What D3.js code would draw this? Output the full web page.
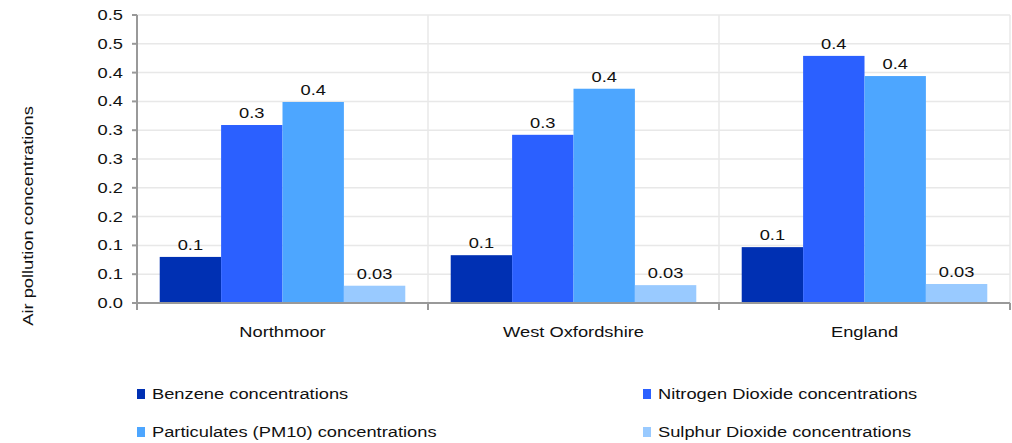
<!DOCTYPE html>
<html>
<head>
<meta charset="utf-8">
<script src="https://d3js.org/d3.v7.min.js"></script>
<style>
body { margin: 0; background: #fff; }
text { font-family: "Liberation Sans", Arial, sans-serif; fill: #111; }
</style>
</head>
<body>
<svg id="chart" width="1012" height="443"></svg>
<script>
// data
var areas = ["Northmoor", "West Oxfordshire", "England"];
var series = ["Benzene concentrations", "Nitrogen Dioxide concentrations",
              "Particulates (PM10) concentrations", "Sulphur Dioxide concentrations"];
var benzene = [0.080, 0.083, 0.097];
var nitrogen = [0.309, 0.292, 0.429];
var pm10 = [0.349, 0.372, 0.394];
var sulphur = [0.030, 0.031, 0.033];
var benzeneLabels = ["0.1", "0.1", "0.1"];
var nitrogenLabels = ["0.3", "0.3", "0.4"];
var pm10Labels = ["0.4", "0.4", "0.4"];
var sulphurLabels = ["0.03", "0.03", "0.03"];
var yTicks = [0, 0.05, 0.1, 0.15, 0.2, 0.25, 0.3, 0.35, 0.4, 0.45, 0.5];
var yTickLabels = ["0.0", "0.1", "0.1", "0.2", "0.2", "0.3", "0.3", "0.4", "0.4", "0.5", "0.5"];
var colors = ["#0030b3", "#2b60ff", "#4da6ff", "#99caff"];

var values = [benzene, nitrogen, pm10, sulphur];
var labels = [benzeneLabels, nitrogenLabels, pm10Labels, sulphurLabels];

var svg = d3.select("#chart");
var plotLeft = 137, plotRight = 1010, plotTop = 15, plotBottom = 303;
var stretch = 1.22; // text in the reference is drawn wide

// text helper: places a horizontally stretched label
function label(parent, x, y, str, anchor, size) {
  return parent.append("text")
    .attr("transform", "translate(" + x + "," + y + ") scale(" + stretch + ",1)")
    .attr("text-anchor", anchor || "start")
    .style("font-size", (size || 15) + "px")
    .text(str);
}

var x = d3.scaleBand().domain(areas).range([plotLeft, plotRight]);
var xs = d3.scaleBand().domain(d3.range(series.length))
    .range([0, x.bandwidth()]).paddingOuter(0.37).paddingInner(0);
var y = d3.scaleLinear().domain([0, 0.5]).range([plotBottom, plotTop]);

// horizontal grid
svg.append("g").selectAll("line").data(yTicks.slice(1)).enter().append("line")
  .attr("x1", plotLeft).attr("x2", plotRight)
  .attr("y1", function(d) { return y(d); }).attr("y2", function(d) { return y(d); })
  .attr("stroke", "#e8e8e8").attr("stroke-width", 1.5);

// vertical grid between areas
var bounds = areas.map(function(d) { return x(d); }).concat([plotRight]);
svg.append("g").selectAll("line").data(bounds.slice(1)).enter().append("line")
  .attr("x1", function(d) { return d; }).attr("x2", function(d) { return d; })
  .attr("y1", plotTop).attr("y2", plotBottom)
  .attr("stroke", "#e8e8e8").attr("stroke-width", 1.5);

// bars
var groups = svg.append("g").selectAll("g").data(areas).enter().append("g")
  .attr("transform", function(d) { return "translate(" + x(d) + ",0)"; });

groups.each(function(area, ai) {
  var g = d3.select(this);
  series.forEach(function(s, si) {
    var v = values[si][ai];
    g.append("rect")
      .attr("x", xs(si)).attr("width", xs.bandwidth())
      .attr("y", y(v)).attr("height", y(0) - y(v))
      .attr("fill", colors[si]);
    label(g, xs(si) + xs.bandwidth() / 2, y(v) - 7, labels[si][ai], "middle", 15);
  });
});

// y axis
var ya = svg.append("g");
ya.append("line").attr("x1", plotLeft).attr("x2", plotLeft)
  .attr("y1", plotTop).attr("y2", plotBottom).attr("stroke", "#999").attr("stroke-width", 2);
ya.selectAll("line.tk").data(yTicks).enter().append("line").attr("class", "tk")
  .attr("x1", plotLeft - 5).attr("x2", plotLeft)
  .attr("y1", function(d) { return y(d); }).attr("y2", function(d) { return y(d); })
  .attr("stroke", "#999").attr("stroke-width", 2);
yTicks.forEach(function(t, i) {
  label(ya, plotLeft - 14, y(t) + 5, yTickLabels[i], "end", 15);
});

// x axis
var xa = svg.append("g");
xa.append("line").attr("x1", plotLeft).attr("x2", plotRight)
  .attr("y1", plotBottom).attr("y2", plotBottom).attr("stroke", "#999").attr("stroke-width", 2);
xa.selectAll("line.tk").data(bounds).enter().append("line").attr("class", "tk")
  .attr("x1", function(d) { return d; }).attr("x2", function(d) { return d; })
  .attr("y1", plotBottom).attr("y2", plotBottom + 7).attr("stroke", "#999").attr("stroke-width", 2);
areas.forEach(function(a) {
  label(xa, x(a) + x.bandwidth() / 2, plotBottom + 34, a, "middle", 15);
});

// y title
svg.append("text")
  .attr("transform", "translate(33,216) rotate(-90) scale(" + stretch + ",1)")
  .attr("text-anchor", "middle").style("font-size", "15px")
  .text("Air pollution concentrations");

// legend
var legendX = [137, 643], legendY = [394, 432];
series.forEach(function(s, i) {
  var lx = legendX[i % 2], ly = legendY[Math.floor(i / 2)];
  svg.append("rect").attr("x", lx).attr("y", ly - 5).attr("width", 8).attr("height", 10).attr("fill", colors[i]);
  label(svg, lx + 15, ly + 5, s, "start", 15);
});
</script>
</body>
</html>
